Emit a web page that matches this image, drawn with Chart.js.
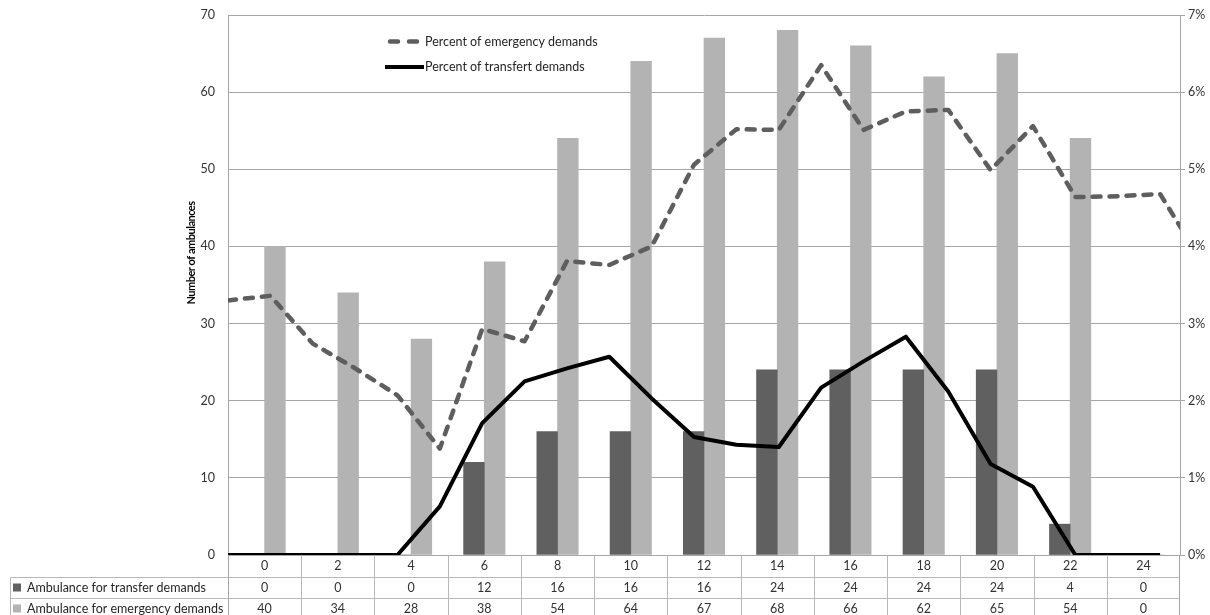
<!DOCTYPE html>
<html>
<head>
<meta charset="utf-8">
<title>Ambulances by hour</title>
<script src="https://cdn.jsdelivr.net/npm/chart.js@4.4.1/dist/chart.umd.min.js"></script>
<style>
  html, body { margin: 0; padding: 0; background: #ffffff; }
  canvas { display: block; }
</style>
</head>
<body>
<canvas id="chart" width="1210" height="615"></canvas>
<script>
// Hour of day (every 2 hours) used as bar categories and table header
const hourLabels = ['0', '2', '4', '6', '8', '10', '12', '14', '16', '18', '20', '22', '24'];

// Number of ambulances per category
const transferAmbulances  = [0, 0, 0, 12, 16, 16, 16, 24, 24, 24, 24, 4, 0];
const emergencyAmbulances = [40, 34, 28, 38, 54, 64, 67, 68, 66, 62, 65, 54, 0];

// Hourly share of demands (percent), one value per hour step
const pctEmergency = [3.30, 3.36, 2.74, 2.42, 2.07, 1.38, 2.93, 2.77, 3.81, 3.76, 4.00, 5.06,
                      5.52, 5.51, 6.35, 5.51, 5.75, 5.77, 4.99, 5.56, 4.64, 4.65, 4.68, 3.79];
const pctTransfer  = [0, 0, 0, 0, 0, 0.63, 1.71, 2.25, 2.42, 2.57, 2.03, 1.53,
                      1.43, 1.40, 2.17, 2.51, 2.83, 2.12, 1.18, 0.885, 0, 0, 0];

// Left and right axis ticks
const countTicks = [0, 10, 20, 30, 40, 50, 60, 70];
const percentTicks = [0, 1, 2, 3, 4, 5, 6, 7];

// Series names
const nameTransferBars  = 'Ambulance for transfer demands';
const nameEmergencyBars = 'Ambulance for emergency demands';
const nameEmergencyPct  = 'Percent of emergency demands';
const nameTransferPct   = 'Percent of transfert demands';
const yTitle = 'Number of ambulances';

const FONT = 'Lato, "Open Sans", sans-serif';
const TEXT = '#333333';
const GRID = '#a6a6a6';
const TABLE_LINE = '#b8b8b8';
const DARK = '#606060';
const LIGHT = '#b3b3b3';
const DASHED = '#5e5e5e';

// Hourly line series cover a wider step than the bar categories
const HOUR_SPAN = 22.47;

const toPoints = arr => arr.map((v, i) => ({ x: i, y: v }));

// Draws the legend for the two line series inside the plot, and the left axis title
const lineLegend = {
  id: 'lineLegend',
  afterDraw(chart) {
    const ctx = chart.ctx;
    ctx.save();
    ctx.font = '12.5px ' + FONT;
    ctx.fillStyle = '#262626';
    ctx.textBaseline = 'middle';
    ctx.textAlign = 'left';

    // dashed sample: two short dashes
    ctx.strokeStyle = DASHED;
    ctx.lineWidth = 4.5;
    ctx.lineCap = 'round';
    ctx.beginPath();
    ctx.moveTo(390, 41.5);
    ctx.lineTo(398, 41.5);
    ctx.moveTo(409, 41.5);
    ctx.lineTo(417, 41.5);
    ctx.stroke();
    ctx.fillText(nameEmergencyPct, 425, 42);

    // solid sample
    ctx.strokeStyle = '#000000';
    ctx.lineWidth = 4;
    ctx.lineCap = 'butt';
    ctx.beginPath();
    ctx.moveTo(385, 67);
    ctx.lineTo(424, 67);
    ctx.stroke();
    ctx.fillText(nameTransferPct, 425, 67);

    // left axis title
    ctx.save();
    ctx.translate(191, 253);
    ctx.rotate(-Math.PI / 2);
    ctx.font = 'bold 11px ' + FONT;
    ctx.fillStyle = '#000000';
    ctx.textAlign = 'center';
    if ('letterSpacing' in ctx) ctx.letterSpacing = '-0.5px';
    ctx.fillText(yTitle, 0, 0);
    ctx.restore();

    ctx.restore();
  }
};

// Data table under the plot, aligned on the category axis
const dataTable = {
  id: 'dataTable',
  afterDraw(chart) {
    const ctx = chart.ctx;
    const xs = chart.scales.x;
    const area = chart.chartArea;
    const top = Math.round(area.bottom);
    const rowTops = [top, top + 21.5, top + 42.5, top + 63.5];
    const labelLeft = 10.5;
    const n = hourLabels.length;
    const colW = (area.right - area.left) / n;

    ctx.save();
    ctx.strokeStyle = TABLE_LINE;
    ctx.lineWidth = 1;
    ctx.beginPath();
    // horizontal rules
    for (let r = 1; r < rowTops.length; r++) {
      const y = Math.round(rowTops[r]) + 0.5;
      ctx.moveTo(labelLeft, y);
      ctx.lineTo(area.right, y);
    }
    // label column left edge
    ctx.moveTo(labelLeft, Math.round(rowTops[1]) + 0.5);
    ctx.lineTo(labelLeft, 615);
    // column separators
    for (let i = 1; i < n; i++) {
      const x = Math.round(area.left + i * colW) + 0.5;
      ctx.moveTo(x, top);
      ctx.lineTo(x, 615);
    }
    ctx.stroke();
    ctx.strokeStyle = GRID;
    ctx.beginPath();
    ctx.moveTo(Math.round(area.left) + 0.5, top);
    ctx.lineTo(Math.round(area.left) + 0.5, 615);
    ctx.moveTo(Math.round(area.right) - 0.5, top);
    ctx.lineTo(Math.round(area.right) - 0.5, 615);
    ctx.stroke();

    ctx.font = '12.5px ' + FONT;
    ctx.fillStyle = TEXT;
    ctx.textBaseline = 'middle';
    ctx.textAlign = 'center';
    const mid = r => (rowTops[r] + rowTops[r + 1]) / 2 + 0.5;
    for (let i = 0; i < n; i++) {
      const x = xs.getPixelForValue(i);
      ctx.fillText(hourLabels[i], x, mid(0));
      ctx.fillText(String(transferAmbulances[i]), x, mid(1));
      ctx.fillText(String(emergencyAmbulances[i]), x, mid(2));
    }

    // row headers with colour keys
    ctx.textAlign = 'left';
    ctx.fillStyle = DARK;
    ctx.fillRect(13, mid(1) - 4, 8, 8);
    ctx.fillStyle = LIGHT;
    ctx.fillRect(13, mid(2) - 4, 8, 8);
    ctx.fillStyle = '#262626';
    ctx.fillText(nameTransferBars, 27, mid(1));
    ctx.fillText(nameEmergencyBars, 27, mid(2));
    ctx.restore();
  }
};

Chart.defaults.font.family = FONT;
Chart.defaults.font.size = 12.5;
Chart.defaults.color = TEXT;

new Chart(document.getElementById('chart'), {
  data: {
    labels: hourLabels,
    datasets: [
      {
        type: 'line',
        label: nameTransferPct,
        data: toPoints(pctTransfer),
        xAxisID: 'x2',
        yAxisID: 'y2',
        borderColor: '#000000',
        borderWidth: 4,
        borderJoinStyle: 'round',
        pointRadius: 0,
        tension: 0,
        clip: 0,
        order: 0
      },
      {
        type: 'line',
        label: nameEmergencyPct,
        data: toPoints(pctEmergency),
        xAxisID: 'x2',
        yAxisID: 'y2',
        borderColor: DASHED,
        borderWidth: 4.5,
        borderDash: [8, 9],
        borderCapStyle: 'round',
        borderJoinStyle: 'round',
        pointRadius: 0,
        tension: 0,
        clip: 0,
        order: 1
      },
      {
        type: 'bar',
        label: nameTransferBars,
        data: transferAmbulances,
        backgroundColor: DARK,
        xAxisID: 'x',
        yAxisID: 'y',
        barThickness: 20.7,
        order: 2
      },
      {
        type: 'bar',
        label: nameEmergencyBars,
        data: emergencyAmbulances,
        backgroundColor: LIGHT,
        xAxisID: 'x',
        yAxisID: 'y',
        barThickness: 20.7,
        order: 3
      }
    ]
  },
  options: {
    responsive: false,
    devicePixelRatio: 1,
    animation: false,
    layout: { padding: { top: 15, right: 0, bottom: 0, left: 0 } },
    plugins: {
      legend: { display: false },
      tooltip: { enabled: false }
    },
    scales: {
      x: {
        type: 'category',
        position: 'bottom',
        offset: true,
        grid: { display: false },
        border: { display: true, color: GRID },
        ticks: { display: false },
        afterFit(s) { s.height = 60; }
      },
      x2: {
        type: 'linear',
        position: 'bottom',
        display: false,
        min: 0,
        max: HOUR_SPAN
      },
      y: {
        position: 'left',
        min: countTicks[0],
        max: countTicks[countTicks.length - 1],
        afterBuildTicks(s) { s.ticks = countTicks.map(v => ({ value: v })); },
        grid: { color: GRID, drawTicks: true, tickLength: 13, tickColor: 'rgba(0,0,0,0)' },
        border: { display: true, color: GRID },
        ticks: { padding: 0, color: TEXT },
        afterFit(s) { s.width = 228; }
      },
      y2: {
        position: 'right',
        min: percentTicks[0],
        max: percentTicks[percentTicks.length - 1],
        afterBuildTicks(s) { s.ticks = percentTicks.map(v => ({ value: v })); },
        grid: { drawOnChartArea: false, drawTicks: true, tickLength: 5, color: GRID },
        border: { display: true, color: GRID },
        ticks: { padding: 3, color: TEXT, callback: v => v + '%' },
        afterFit(s) { s.width = 30; }
      }
    }
  },
  plugins: [dataTable, lineLegend]
});
</script>
</body>
</html>
